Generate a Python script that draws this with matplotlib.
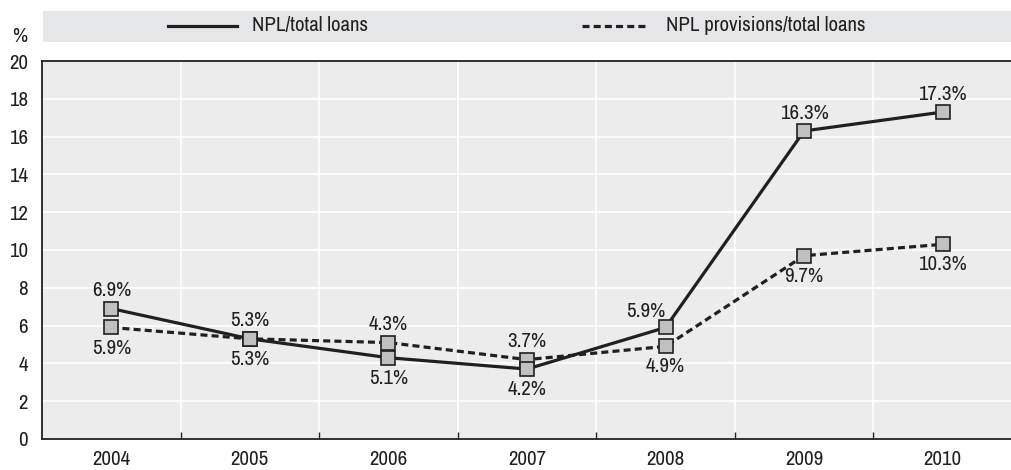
import matplotlib.pyplot as plt
from matplotlib.lines import Line2D
from matplotlib.patches import Rectangle

plt.rcParams['font.family'] = ['Archivo Narrow', 'Liberation Sans', 'DejaVu Sans']

years = ['2004', '2005', '2006', '2007', '2008', '2009', '2010']
npl = [6.9, 5.3, 4.3, 3.7, 5.9, 16.3, 17.3]
prov = [5.9, 5.3, 5.1, 4.2, 4.9, 9.7, 10.3]

# labels as printed in the original (text, offset direction)
npl_labels = ['6.9%', '5.3%', '5.1%', '4.2%', '5.9%', '16.3%', '17.3%']
npl_pos = ['up', 'up', 'down', 'down', 'upleft', 'up', 'up']
prov_labels = ['5.9%', '5.3%', '4.3%', '3.7%', '4.9%', '9.7%', '10.3%']
prov_pos = ['down', 'down', 'up', 'up', 'down', 'down', 'down']

dark = '#231f20'
face = '#c0c0c2'
fs = 15
dash = (0, (2.2, 1.3))

fig = plt.figure(figsize=(10.12, 4.70), dpi=100)
ax = fig.add_axes([0.0415, 0.066, 0.9585, 0.8042])
ax.set_facecolor('#ececec')

x = list(range(len(years)))
ax.plot(x, npl, color=dark, lw=2.3, marker='s', ms=9.5, mfc=face, mec=dark, mew=1.2, zorder=4)
ax.plot(x, prov, color=dark, lw=2.3, ls=dash, marker='s', ms=9.5, mfc=face, mec=dark, mew=1.2, zorder=3)

offs = {'up': (0, 6, 'bottom'), 'down': (0, -8, 'top'), 'upleft': (-14, 5, 'bottom')}
for vals, labs, pos in [(npl, npl_labels, npl_pos), (prov, prov_labels, prov_pos)]:
    for i, (v, t, p) in enumerate(zip(vals, labs, pos)):
        dx, dy, va = offs[p]
        ax.annotate(t, (i, v), xytext=(dx, dy), textcoords='offset points',
                    ha='center', va=va, fontsize=fs, color=dark, zorder=5)

ax.set_xlim(-0.5, 6.5)
ax.set_ylim(0, 20)
ax.set_yticks(range(0, 21, 2))
ax.set_xticks(x)
ax.set_xticklabels(years)
ax.set_xticks([i + 0.5 for i in range(6)], minor=True)
ax.grid(which='minor', axis='x', color='white', lw=1.2)
ax.grid(which='major', axis='y', color='white', lw=1.2)
ax.tick_params(axis='x', which='major', length=0, pad=8, labelsize=fs, colors=dark)
ax.tick_params(axis='x', which='minor', length=5, direction='in', color=dark, width=1)
ax.tick_params(axis='y', length=0, pad=10, labelsize=fs, colors=dark)
ax.set_axisbelow(True)
for s in ['left', 'bottom', 'top']:
    ax.spines[s].set_color(dark)
    ax.spines[s].set_linewidth(1.3)
ax.spines['right'].set_visible(False)

# legend band
fig.patches.append(Rectangle((0.0425, 0.9106), 0.96, 0.066, transform=fig.transFigure,
                             facecolor='#e5e6e7', edgecolor='none'))
ly = 0.9447
fig.lines.append(Line2D([0.166, 0.234], [ly, ly], transform=fig.transFigure, color=dark, lw=2.3))
fig.text(0.249, ly, 'NPL/total loans', va='center', ha='left', fontsize=fs, color=dark)
fig.lines.append(Line2D([0.575, 0.640], [ly, ly], transform=fig.transFigure, color=dark, lw=2.3,
                        ls=dash))
fig.text(0.658, ly, 'NPL provisions/total loans', va='center', ha='left', fontsize=fs, color=dark)
fig.text(0.0119, 0.922, '%', va='center', ha='left', fontsize=fs, color=dark)

fig.savefig('out.png', dpi=100)
